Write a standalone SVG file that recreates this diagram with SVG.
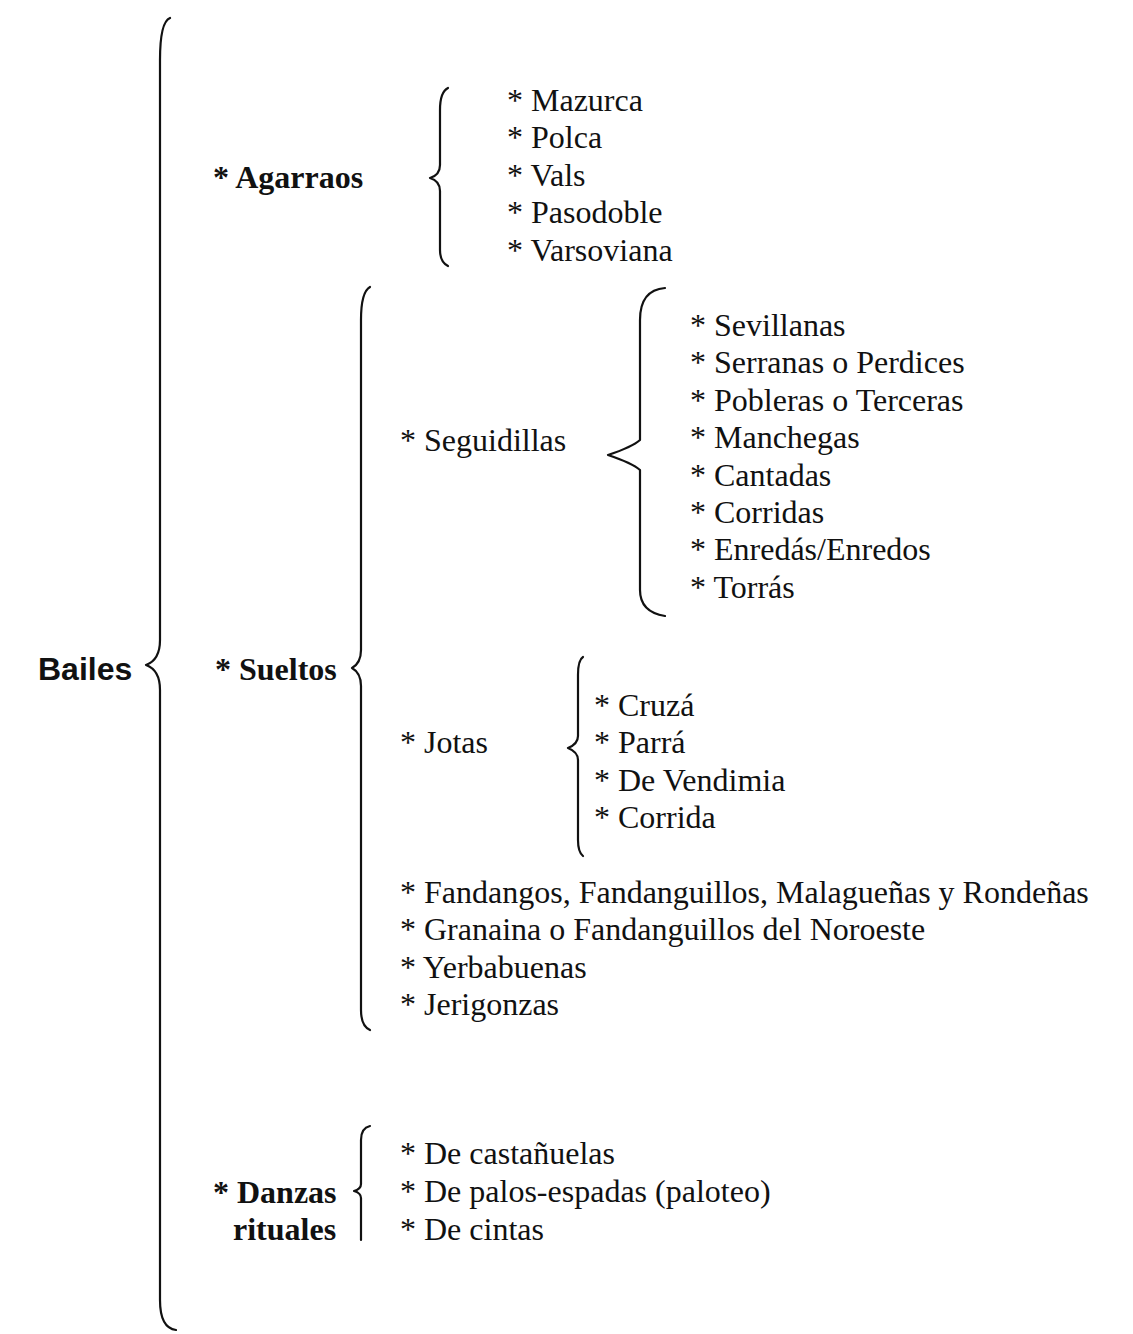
<svg xmlns="http://www.w3.org/2000/svg" width="1133" height="1334" viewBox="0 0 1133 1334">
<style>
text{font-family:"Liberation Serif","Times New Roman",serif;font-size:32px;fill:#111}
.h{font-weight:bold}
.b{font-family:"Liberation Sans",Arial,sans-serif;font-weight:bold;font-size:32px}
.br{fill:none;stroke:#111;stroke-width:2.2;stroke-linecap:round;stroke-linejoin:round}
</style>
<rect width="1133" height="1334" fill="#fff"/>
<g id="connectors">
<path class="br" d="M170 18 Q160 22 160 60 L160 640 Q160 660 146 665 Q160 670 160 690 L160 1300 Q160 1328 176 1330"/>
<path class="br" d="M448 88 Q440 92 440 110 L440 165 Q440 175 430 178 Q440 181 440 191 L440 250 Q440 262 448 266"/>
<path class="br" d="M370 287 Q361 292 361 320 L361 650 Q361 663 352 668 Q361 673 361 686 L361 1010 Q361 1026 370 1030"/>
<path class="br" d="M665 288 Q640 290 640 320 L640 440 Q632 447 608 455 Q632 463 640 470 L640 590 Q640 612 665 616"/>
<path class="br" d="M583 657 Q578 660 578 675 L578 736 Q578 744 568 748 Q578 752 578 760 L578 840 Q578 852 583 856"/>
<path class="br" d="M370 1126 Q361 1128 361 1140 L361 1184 Q361 1189 354 1191 Q361 1193 361 1198 L361 1240"/>
</g>
<g id="n-bailes"><text class="b" x="38" y="680">Bailes</text></g>
<g id="n-agarraos"><text class="h" x="213" y="188">* Agarraos</text></g>
<g id="n-agarraos-items">
<text x="507" y="111">* Mazurca</text>
<text x="507" y="148">* Polca</text>
<text x="507" y="186">* Vals</text>
<text x="507" y="223">* Pasodoble</text>
<text x="507" y="261">* Varsoviana</text>
</g>
<g id="n-sueltos"><text class="h" x="215" y="680">* Sueltos</text></g>
<g id="n-seguidillas"><text x="400" y="451">* Seguidillas</text></g>
<g id="n-seguidillas-items">
<text x="690" y="336">* Sevillanas</text>
<text x="690" y="373">* Serranas o Perdices</text>
<text x="690" y="411">* Pobleras o Terceras</text>
<text x="690" y="448">* Manchegas</text>
<text x="690" y="486">* Cantadas</text>
<text x="690" y="523">* Corridas</text>
<text x="690" y="560">* Enredás/Enredos</text>
<text x="690" y="598">* Torrás</text>
</g>
<g id="n-jotas"><text x="400" y="753">* Jotas</text></g>
<g id="n-jotas-items">
<text x="594" y="716">* Cruzá</text>
<text x="594" y="753">* Parrá</text>
<text x="594" y="791">* De Vendimia</text>
<text x="594" y="828">* Corrida</text>
</g>
<g id="n-sueltos-items">
<text x="400" y="903">* Fandangos, Fandanguillos, Malagueñas y Rondeñas</text>
<text x="400" y="940">* Granaina o Fandanguillos del Noroeste</text>
<text x="400" y="978">* Yerbabuenas</text>
<text x="400" y="1015">* Jerigonzas</text>
</g>
<g id="n-danzas"><text class="h" x="213" y="1203">* Danzas</text><text class="h" x="233" y="1240">rituales</text></g>
<g id="n-danzas-items">
<text x="400" y="1164">* De castañuelas</text>
<text x="400" y="1202">* De palos-espadas (paloteo)</text>
<text x="400" y="1240">* De cintas</text>
</g>
</svg>
